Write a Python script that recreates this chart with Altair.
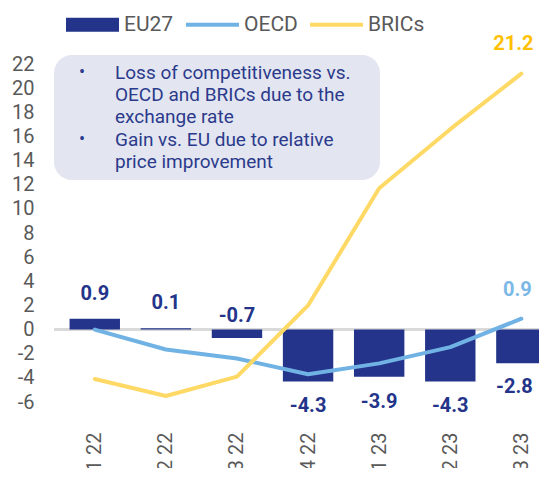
import json
import altair as alt
import pandas as pd

# ---- data ----
QUARTERS = ["Q1 22", "Q2 22", "Q3 22", "Q4 22", "Q1 23", "Q2 23", "Q3 23"]
EU27 = [0.9, 0.1, -0.7, -4.3, -3.9, -4.3, -2.8]
OECD = [0.0, -1.65, -2.4, -3.7, -2.8, -1.45, 0.9]
BRICS = [-4.1, -5.5, -3.9, 2.0, 11.7, 16.6, 21.2]
SERIES = ["EU27", "OECD", "BRICs"]
COLORS = ["#23348A", "#71B2E4", "#FFD966"]
Y_TICKS = list(range(-6, 23, 2))
NOTE_LINES = [
    "Loss of competitiveness vs.",
    "OECD and BRICs due to the",
    "exchange rate",
    "Gain vs. EU due to relative",
    "price improvement",
]

FONT = "Roboto"
AXIS_GREY = "#595959"
NAVY = COLORS[0]
NOTE_COLOR = "#2B3A8C"
LINE_H = 22.4

# layout of the category axis (the source chart is cropped on the right)
PLOT_W = 485
STEP = 72.6            # px per category
BAR_W = 50.4           # px
X_MIN = -0.503         # domain start, in category units
X_MAX = X_MIN + PLOT_W / STEP

IDX = list(range(len(QUARTERS)))
LAST = QUARTERS[-1]
bars_df = pd.DataFrame({"idx": IDX, "quarter": QUARTERS, "series": "EU27", "value": EU27})
lines_df = pd.concat([
    pd.DataFrame({"idx": IDX, "quarter": QUARTERS, "series": "OECD", "value": OECD}),
    pd.DataFrame({"idx": IDX, "quarter": QUARTERS, "series": "BRICs", "value": BRICS}),
])
legend_df = pd.DataFrame({"series": SERIES})
note_df = pd.DataFrame({"text": ["\n".join(NOTE_LINES)]})

x_enc = alt.X(
    "idx:Q",
    scale=alt.Scale(domain=[X_MIN, X_MAX], nice=False, zero=False),
    axis=alt.Axis(title=None, values=IDX, labelAngle=-90, ticks=False, domain=False, grid=False,
                  labelPadding=30, labelFontSize=20, labelColor=AXIS_GREY, labelFont=FONT,
                  labelOverlap=False, labelFlush=False,
                  labelExpr=f"{json.dumps(QUARTERS)}[datum.value]"),
)
y_scale = alt.Scale(domain=[-6, 22], nice=False, zero=False)
y_axis = alt.Axis(title=None, values=Y_TICKS, ticks=False, domain=False, grid=False,
                  labelPadding=20, labelFontSize=20, labelColor=AXIS_GREY, labelFont=FONT,
                  labelOverlap=False,
                  labelExpr="replace(datum.label, '\u2212', '-')")
y_enc = alt.Y("value:Q", scale=y_scale, axis=y_axis)
y_zero = alt.datum(0, scale=y_scale, axis=y_axis)
LABEL_EXPR = "replace(format(datum.value, '.1f'), '\u2212', '-')"

# annotation box
note_box = alt.Chart(note_df).mark_rect(color="#E3E6F0", cornerRadius=18).encode(
    x=alt.value(0), x2=alt.value(326), y=alt.value(-9), y2=alt.value(116)
)
note_text = alt.Chart(note_df).mark_text(
    font=FONT, fontSize=19, color=NOTE_COLOR, align="left", baseline="middle",
    lineBreak="\n", lineHeight=LINE_H,
).encode(text="text:N", x=alt.value(61), y=alt.value(8.7))
bullet1 = alt.Chart(note_df).mark_text(
    font=FONT, fontSize=18, color=NOTE_COLOR, align="center", baseline="middle",
).encode(text=alt.value("•"), x=alt.value(28), y=alt.value(8.7))
bullet2 = alt.Chart(note_df).mark_text(
    font=FONT, fontSize=18, color=NOTE_COLOR, align="center", baseline="middle",
).encode(text=alt.value("•"), x=alt.value(28), y=alt.value(8.7 + 3 * LINE_H))

zero_rule = alt.Chart(bars_df).mark_rule(color="#D9D9D9", strokeWidth=2).encode(y=y_zero)

bars = alt.Chart(bars_df).mark_bar(clip=True, color=NAVY, size=BAR_W).encode(
    x=x_enc, y=y_enc, y2=alt.datum(0),
)


def line_layer(name, color):
    return alt.Chart(lines_df).transform_filter(f"datum.series == '{name}'").mark_line(
        strokeWidth=4, strokeJoin="round", strokeCap="round", color=color
    ).encode(x=x_enc, y=y_enc)


oecd_line = line_layer("OECD", COLORS[1])
brics_line = line_layer("BRICs", COLORS[2])

lbl_common = dict(font=FONT, fontSize=20, fontWeight="bold", baseline="middle", align="center")


def labels(df, flt, color, dy, y=None, dx=0):
    return alt.Chart(df).transform_filter(flt).transform_calculate(
        label=LABEL_EXPR
    ).mark_text(color=color, dy=dy, dx=dx, **lbl_common).encode(
        x=x_enc, y=y if y is not None else y_enc, text="label:N")


bar_lbl_pos = labels(bars_df, "datum.value >= 0", NAVY, -25)
bar_lbl_small = labels(bars_df, "datum.value < 0 && datum.value > -1", NAVY, -14, y=y_zero)
bar_lbl_neg = labels(bars_df, f"datum.value <= -1 && datum.quarter != '{LAST}'", NAVY, 25)
bar_lbl_last = labels(bars_df, f"datum.value <= -1 && datum.quarter == '{LAST}'", NAVY, 24, dx=-7)
oecd_lbl = labels(lines_df, f"datum.series == 'OECD' && datum.quarter == '{LAST}'",
                  "#7CB8E6", -29, dx=-4)
brics_lbl = labels(lines_df, f"datum.series == 'BRICs' && datum.quarter == '{LAST}'",
                   "#FFC000", -30, dx=-8)

# legend carrier layer: points placed outside the clipped plot, supplies the legend
SHAPES = ["M-1,-0.264H1V0.264H-1Z", "M-1,-0.075H1V0.075H-1Z", "M-1,-0.075H1V0.075H-1Z"]
leg = alt.Legend(
    title=None, orient="none", legendX=12, legendY=-66, direction="horizontal",
    labelFont=FONT, labelFontSize=21, labelColor=AXIS_GREY, labelOffset=5,
    columnPadding=12, symbolSize=2809, symbolStrokeWidth=0, symbolOpacity=1,
)
legend_layer = alt.Chart(legend_df).mark_point(filled=True, opacity=1, clip=True).encode(
    x=alt.value(-200), y=alt.value(-200),
    color=alt.Color("series:N", scale=alt.Scale(domain=SERIES, range=COLORS), legend=leg),
    shape=alt.Shape("series:N", scale=alt.Scale(domain=SERIES, range=SHAPES), legend=leg),
)

chart = alt.layer(
    note_box, bullet1, bullet2, note_text, zero_rule, bars, oecd_line, brics_line,
    bar_lbl_pos, bar_lbl_small, bar_lbl_neg, bar_lbl_last, oecd_lbl, brics_lbl, legend_layer,
).properties(
    width=PLOT_W, height=338,
    autosize=alt.AutoSizeParams(type="none"),
    padding={"left": 46, "top": 56, "right": 0, "bottom": 66},
).configure_view(stroke=None).configure_axis(labelOverlap=False)

chart.save("out.html", embed_options={"renderer": "svg", "actions": False})
